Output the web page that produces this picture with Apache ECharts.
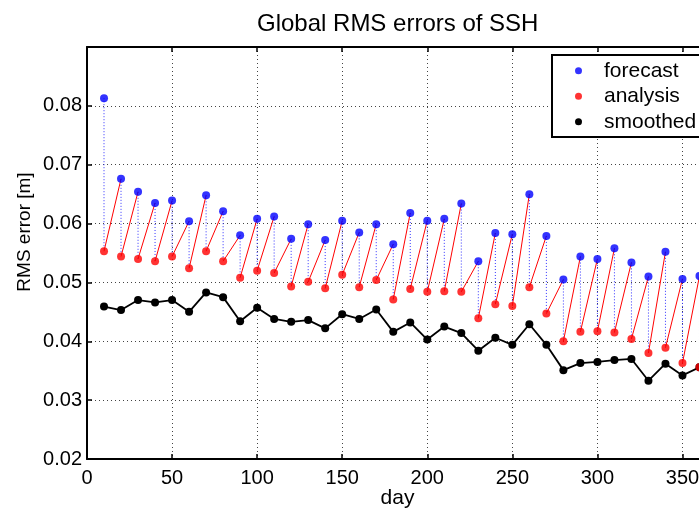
<!DOCTYPE html>
<html>
<head>
<meta charset="utf-8">
<script src="https://cdn.jsdelivr.net/npm/echarts@6/dist/echarts.min.js"></script>
<style>
html,body{margin:0;padding:0;background:#fff;}
#chart{width:699px;height:508px;}
</style>
</head>
<body>
<div id="chart"></div>
<script>
const days = [10,20,30,40,50,60,70,80,90,100,110,120,130,140,150,160,170,180,190,200,210,220,230,240,250,260,270,280,290,300,310,320,330,340,350,360];
const forecast = [0.0813,0.0676,0.0654,0.0635,0.0639,0.0604,0.0648,0.0621,0.0580,0.0608,0.0612,0.0574,0.0599,0.0572,0.0605,0.0585,0.0599,0.0565,0.0618,0.0605,0.0608,0.0634,0.0536,0.0584,0.0582,0.0650,0.0579,0.0505,0.0544,0.0540,0.0558,0.0534,0.0510,0.0552,0.0506,0.0511];
const analysis = [0.0553,0.0544,0.0540,0.0536,0.0544,0.0524,0.0553,0.0536,0.0508,0.0520,0.0516,0.0493,0.0501,0.0490,0.0513,0.0492,0.0504,0.0471,0.0489,0.0484,0.0485,0.0484,0.0439,0.0463,0.0460,0.0492,0.0447,0.0400,0.0416,0.0417,0.0415,0.0404,0.0380,0.0389,0.0363,0.0356];
const smoothed = [0.0459,0.0453,0.0470,0.0466,0.0470,0.0450,0.0483,0.0475,0.0434,0.0457,0.0438,0.0433,0.0436,0.0422,0.0446,0.0438,0.0454,0.0416,0.0432,0.0403,0.0425,0.0414,0.0384,0.0406,0.0394,0.0429,0.0394,0.0351,0.0363,0.0365,0.0368,0.0370,0.0333,0.0362,0.0342,0.0356];
const xTicks = {min: 0, max: 365, interval: 50};
const yTicks = {min: 0.02, max: 0.09, interval: 0.01};
const seriesNames = ['forecast', 'analysis', 'smoothed'];
const titleText = 'Global RMS errors of SSH';

const FONT = '"Liberation Sans", Arial, Helvetica, sans-serif';

const forecastData = days.map((d, i) => [d, forecast[i]]);
const analysisData = days.map((d, i) => [d, analysis[i]]);
const smoothedData = days.map((d, i) => [d, smoothed[i]]);

const dottedData = [];
days.forEach((d, i) => {
  dottedData.push([d, forecast[i]], [d, analysis[i]], [d, '-']);
});
const redData = [];
for (let i = 0; i < days.length - 1; i++) {
  redData.push([days[i], analysis[i]], [days[i + 1], forecast[i + 1]], [days[i], '-']);
}

const gridLine = {show: true, lineStyle: {color: '#444', type: [1, 3], width: 1}};
const axisLineStyle = {show: true, onZero: false, lineStyle: {color: '#000', width: 2}};
const tickStyle = {show: true, inside: true, length: 5, lineStyle: {color: '#000', width: 1.5}};

const chart = echarts.init(document.getElementById('chart'), null, {renderer: 'canvas'});
chart.setOption({
  animation: false,
  backgroundColor: '#fff',
  textStyle: {fontFamily: FONT},
  title: {
    text: titleText,
    left: 257,
    top: 12,
    padding: 0,
    textStyle: {fontSize: 24, fontWeight: 'normal', color: '#000', fontFamily: FONT}
  },
  grid: {left: 87, top: 47, width: 621, height: 412, show: false, outerBoundsMode: 'none', containLabel: false},
  graphic: [{
    type: 'rect', left: 551, top: 54, z: 9,
    shape: {width: 190, height: 82},
    style: {fill: '#fff', stroke: '#000', lineWidth: 2}
  }],
  legend: {
    data: seriesNames.map(n => ({name: n, icon: 'circle'})),
    orient: 'vertical',
    left: 551,
    top: 54,
    padding: [4, 4, 4, 24],
    itemWidth: 7,
    itemHeight: 7,
    itemGap: 0,
    borderWidth: 0,
    z: 10,
    textStyle: {fontSize: 21, color: '#000', fontFamily: FONT, lineHeight: 25.5, padding: [0, 0, 0, 17]}
  },
  xAxis: [
    {
      type: 'value', position: 'bottom',
      min: xTicks.min, max: xTicks.max, interval: xTicks.interval,
      axisLine: axisLineStyle, axisTick: tickStyle,
      axisLabel: {fontSize: 20, color: '#000', margin: 9, showMaxLabel: false, fontFamily: FONT},
      splitLine: gridLine,
      name: 'day', nameLocation: 'middle', nameGap: 29, nameMoveOverlap: false,
      nameTextStyle: {fontSize: 21, color: '#000', fontFamily: FONT}
    },
    {
      type: 'value', position: 'top',
      min: xTicks.min, max: xTicks.max, interval: xTicks.interval,
      axisLine: axisLineStyle, axisTick: tickStyle,
      axisLabel: {show: false}, splitLine: {show: false}
    }
  ],
  yAxis: [
    {
      type: 'value', position: 'left',
      min: yTicks.min, max: yTicks.max, interval: yTicks.interval,
      axisLine: axisLineStyle, axisTick: tickStyle,
      axisLabel: {fontSize: 20, color: '#000', margin: 5, showMaxLabel: false, fontFamily: FONT,
        formatter: v => v.toFixed(2)},
      splitLine: gridLine,
      name: 'RMS error [m]', nameLocation: 'middle', nameGap: 53, nameRotate: 90, nameMoveOverlap: false,
      nameTextStyle: {fontSize: 19, color: '#000', fontFamily: FONT, padding: [0, 0, 0, 42]}
    },
    {
      type: 'value', position: 'right',
      min: yTicks.min, max: yTicks.max, interval: yTicks.interval,
      axisLine: axisLineStyle, axisTick: tickStyle,
      axisLabel: {show: false}, splitLine: {show: false}
    }
  ],
  series: [
    {
      name: 'f2a', type: 'line', data: dottedData, connectNulls: false,
      showSymbol: false, symbol: 'none', silent: true, z: 1,
      lineStyle: {color: '#3030ff', width: 1, type: [1, 2]}
    },
    {
      name: 'a2f', type: 'line', data: redData, connectNulls: false,
      showSymbol: false, symbol: 'none', silent: true, z: 2,
      lineStyle: {color: '#ff0000', width: 1}
    },
    {
      name: 'smoothed', type: 'line', data: smoothedData, z: 3,
      symbol: 'circle', symbolSize: 8, showSymbol: true,
      itemStyle: {color: '#000'}, lineStyle: {color: '#000', width: 1.8}
    },
    {
      name: 'analysis', type: 'scatter', data: analysisData, z: 4,
      symbol: 'circle', symbolSize: 8, itemStyle: {color: '#ff0000'}
    },
    {
      name: 'forecast', type: 'scatter', data: forecastData, z: 5,
      symbol: 'circle', symbolSize: 8, itemStyle: {color: '#0000ff'}
    }
  ]
});
</script>
</body>
</html>
